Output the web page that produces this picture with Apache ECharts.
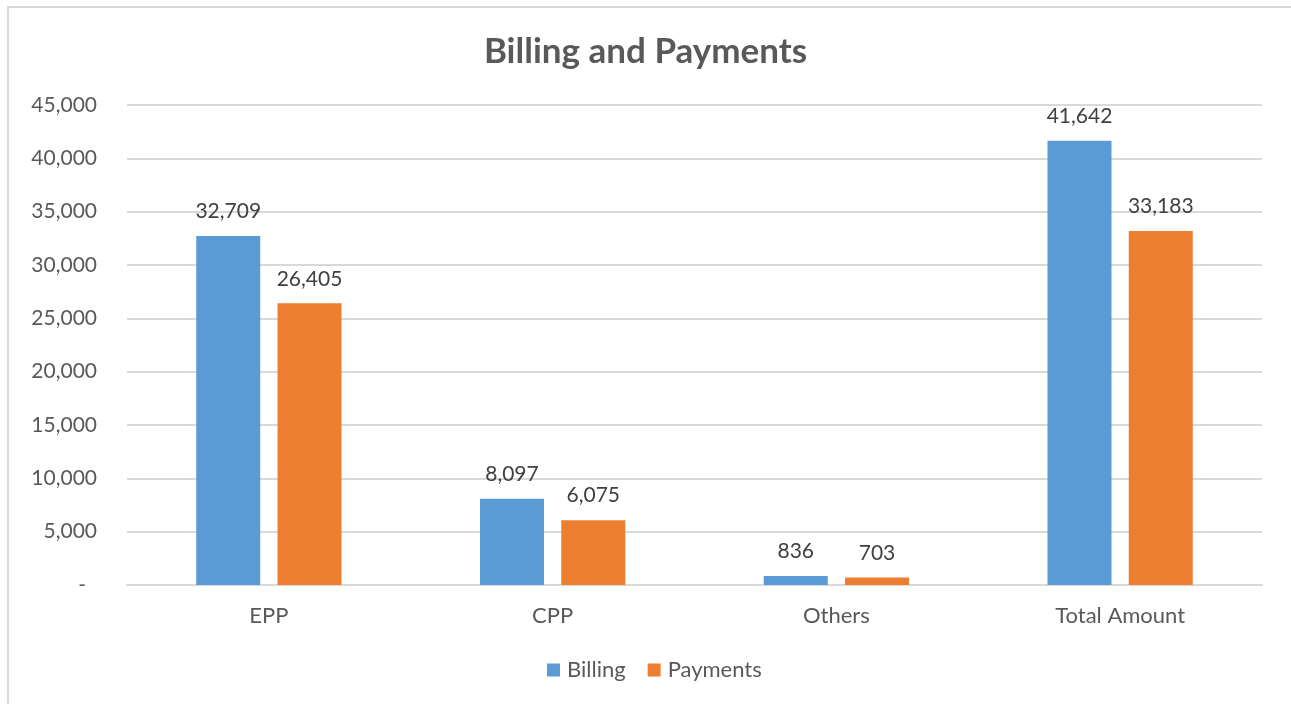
<!DOCTYPE html>
<html>
<head>
<meta charset="utf-8">
<script src="https://cdn.jsdelivr.net/npm/echarts@6/dist/echarts.min.js"></script>
<style>
    body { margin: 0; background: #fff; overflow: hidden; }
    #wrap { position: relative; width: 1291px; height: 704px; }
    #frame { position: absolute; left: 7px; top: 6px; width: 1400px; height: 800px; border: 2px solid #d9d9d9; box-sizing: border-box; }
    #chart { position: absolute; left: 0; top: 0; width: 1291px; height: 704px; }
</style>
</head>
<body>
<div id="wrap">
    <div id="frame"></div>
    <div id="chart"></div>
</div>
<script>
const categories = ['EPP', 'CPP', 'Others', 'Total Amount']
const billing = [32709, 8097, 836, 41642]
const payments = [26405, 6075, 703, 33183]
const seriesNames = ['Billing', 'Payments']

const font = 'Lato, "Noto Sans", sans-serif'
const fmt = (v) => v.toLocaleString('en-US')

const chart = echarts.init(document.getElementById('chart'))
chart.setOption({
    animation: false,
    textStyle: { fontFamily: font },
    title: {
        text: 'Billing and Payments',
        left: 'center',
        top: 29,
        textStyle: { fontSize: 35, fontWeight: 'bold', color: '#595959', fontFamily: font },
    },
    legend: {
        data: seriesNames,
        bottom: 18,
        left: 542,
        itemWidth: 13,
        itemHeight: 13,
        itemGap: 22,
        icon: 'rect',
        textStyle: { fontSize: 22, color: '#595959', fontFamily: font, padding: [0, 0, 0, 2] },
    },
    grid: { left: 127, right: 29, top: 105, bottom: 119 },
    xAxis: {
        type: 'category',
        data: categories,
        axisLine: { lineStyle: { color: '#d9d9d9', width: 2 } },
        axisTick: { show: false },
        axisLabel: { fontSize: 22, color: '#595959', margin: 20 },
    },
    yAxis: {
        type: 'value',
        min: 0,
        max: 45000,
        interval: 5000,
        axisLine: { show: false },
        axisTick: { show: false },
        splitLine: { lineStyle: { color: '#d9d9d9', width: 2 } },
        axisLabel: {
            fontSize: 21,
            color: '#595959',
            margin: 30,
            formatter: (v) => v === 0 ? '{d|-}' : fmt(v),
            rich: { d: { fontSize: 21, color: '#595959', padding: [0, 11, 0, 0] } },
        },
    },
    series: [
        {
            name: seriesNames[0],
            type: 'bar',
            data: billing,
            barWidth: 64,
            barGap: '27%',
            itemStyle: { color: '#5B9BD5' },
            label: { show: true, position: 'top', distance: 14, fontSize: 21, color: '#404040', formatter: (p) => fmt(p.value) },
        },
        {
            name: seriesNames[1],
            type: 'bar',
            data: payments,
            barWidth: 64,
            itemStyle: { color: '#ED7D31' },
            label: { show: true, position: 'top', distance: 14, fontSize: 21, color: '#404040', formatter: (p) => fmt(p.value) },
        },
    ],
})
</script>
</body>
</html>
